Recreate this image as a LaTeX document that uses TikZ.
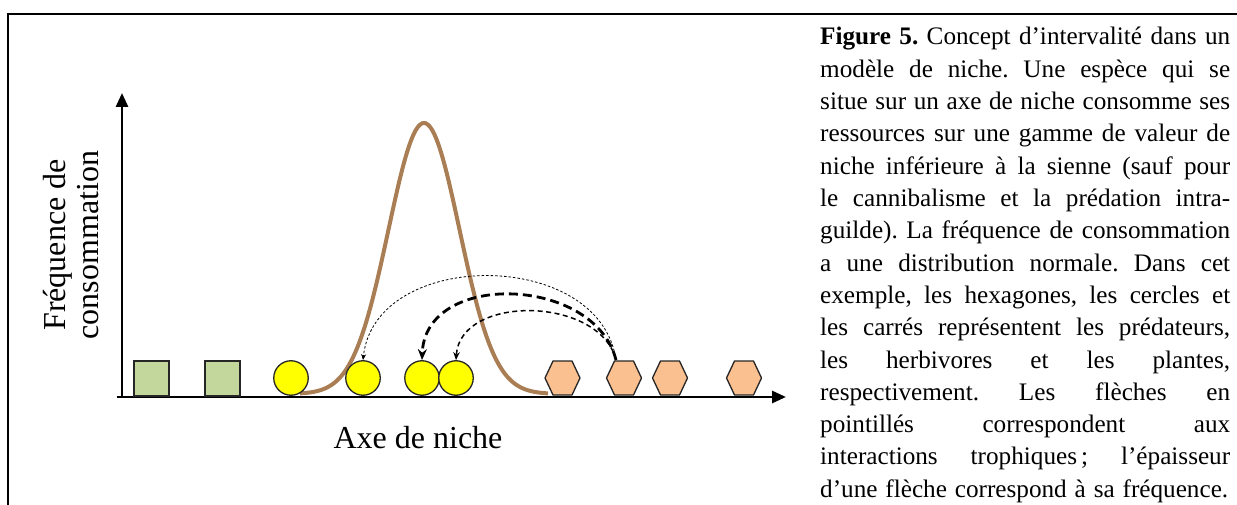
\documentclass[tikz,border=0pt]{standalone}
\usepackage{fontspec}
\setmainfont{Liberation Serif}
\usetikzlibrary{arrows.meta}
\definecolor{plantgreen}{RGB}{195,214,155}
\definecolor{predpeach}{RGB}{250,192,144}
\definecolor{curvebrown}{RGB}{170,126,84}
\definecolor{herbyellow}{RGB}{255,255,0}
\newcommand\hexat[1]{\draw[predshape] (#1) ++(-17.5,0) -- ++(8,-17) -- ++(19,0) -- ++(8,17) -- ++(-8,17) -- ++(-19,0) -- cycle;}
\newcommand\capline[2]{\node[captionline] (cap#1) at (820,{45+32.3*(#1-1)}) {\makebox[410pt][s]{#2}};}
\begin{document}
\frenchspacing
\begin{tikzpicture}[x=1pt,y=-1pt,
  frame/.style={line width=2.5pt},
  axis/.style={line width=2.8pt, {Triangle[length=14pt,width=12pt]}-{Triangle[length=14pt,width=12pt]}},
  plant/.style={draw=black!85, line width=1.3pt, fill=plantgreen, minimum size=35pt, inner sep=0pt},
  herb/.style={circle, draw=black!85, line width=1.3pt, fill=herbyellow, minimum size=34.5pt, inner sep=0pt},
  predshape/.style={draw=black!85, line width=1.3pt, fill=predpeach, line join=miter},
  bell/.style={line width=4pt, draw=curvebrown},
  thinarrow/.style={line width=0.8pt, dash pattern=on 2.5pt off 2pt, -{Stealth[length=6pt,width=5pt]}},
  medarrow/.style={line width=1.5pt, dash pattern=on 5pt off 3.5pt, -{Stealth[length=8pt,width=6.5pt]}},
  thickarrow/.style={line width=2.8pt, dash pattern=on 9pt off 5pt, -{Stealth[length=11pt,width=9pt]}},
  captionline/.style={anchor=base west, inner sep=0pt, font=\fontsize{25.2}{30}\selectfont},
  axislabel/.style={font=\fontsize{32}{33}\selectfont, inner sep=0pt},
]
\useasboundingbox (0,0) rectangle (1237,505);
% frame
\draw[frame] (7.8,505) -- (7.8,13.8) -- (1237,13.8);
% axes
\coordinate (ytip) at (122,93);
\coordinate (origin) at (122,397);
\coordinate (xtip) at (786,397);
\draw[axis] (ytip) -- (origin) -- (xtip);
\draw[line width=2.8pt] (116.5,397) -- (origin);
% bell curve
\draw[bell] plot[domain=-124:124, samples=121, variable=\t] ({424+\t},{394-271*exp(-0.5*(\t/35.5)*(\t/35.5))});
% plants
\node[plant] (s1) at (151.5,378.5) {};
\node[plant] (s2) at (222.5,378.5) {};
% herbivores
\node[herb] (c1) at (291,378) {};
\node[herb] (c2) at (363,378) {};
\node[herb] (c3) at (422,378) {};
\node[herb] (c4) at (456,378) {};
% predators
\coordinate (h1) at (562.5,378);
\coordinate (h2) at (624,378);
\coordinate (h3) at (670,378);
\coordinate (h4) at (744,378);
\hexat{h1}\hexat{h2}\hexat{h3}\hexat{h4}
\coordinate (h2top) at (616,360);
% trophic arrows
\draw[thinarrow] (h2top) .. controls (600,248) and (375,248) .. (c2.north);
\draw[thickarrow] (h2top) .. controls (595,276) and (425,270) .. (c3.north);
\draw[medarrow] (h2top) .. controls (600,296) and (460,294) .. (c4.north);
% axis labels
\node[axislabel, anchor=base] (xlab) at (418,448) {Axe de niche};
\node[axislabel, rotate=90, align=center] (ylab) at (71,245) {Fréquence de\\consommation};
% caption
\capline{1}{\textbf{Figure 5.} Concept d’intervalité dans un}
\capline{2}{modèle de niche. Une espèce qui se}
\capline{3}{situe sur un axe de niche consomme ses}
\capline{4}{ressources sur une gamme de valeur de}
\capline{5}{niche inférieure à la sienne (sauf pour}
\capline{6}{le cannibalisme et la prédation intra-}
\capline{7}{guilde). La fréquence de consommation}
\capline{8}{a une distribution normale. Dans cet}
\capline{9}{exemple, les hexagones, les cercles et}
\capline{10}{les carrés représentent les prédateurs,}
\capline{11}{les herbivores et les plantes,}
\capline{12}{respectivement. Les flèches en}
\capline{13}{pointillés correspondent aux}
\capline{14}{interactions trophiques\kern4pt; l’épaisseur}
\node[captionline] (cap15) at (820,{45+32.3*14}) {\makebox[408pt][s]{d’une flèche correspond à sa fréquence.}};
\end{tikzpicture}
\end{document}
